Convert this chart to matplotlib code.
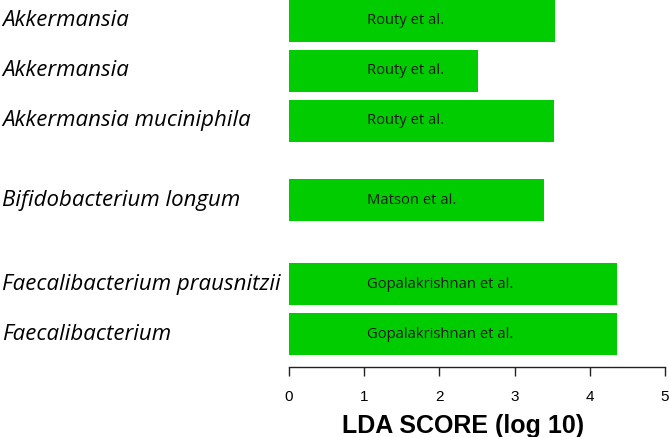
import matplotlib
matplotlib.use("Agg")
import matplotlib.pyplot as plt
from matplotlib.transforms import blended_transform_factory

taxa = ["Akkermansia", "Akkermansia", "Akkermansia muciniphila",
        "Bifidobacterium longum", "Faecalibacterium prausnitzii", "Faecalibacterium"]
lda_scores = [3.54, 2.51, 3.52, 3.39, 4.36, 4.36]
studies = ["Routy et al.", "Routy et al.", "Routy et al.",
           "Matson et al.", "Gopalakrishnan et al.", "Gopalakrishnan et al."]
positions = [0, 1, 2, 3.586, 5.264, 6.264]
xticks = [0, 1, 2, 3, 4, 5]

W, H = 669, 437
fig = plt.figure(figsize=(W / 100, H / 100), dpi=100)
ax = fig.add_axes([289 / W, (H - 367) / H, 376 / W, 367 / H])

ax.barh(positions, lda_scores, height=0.83, color="#00CC00", edgecolor="none")
ax.set_xlim(0, 5)
ax.set_ylim(6.92, -0.416)

for s in ["top", "right", "left"]:
    ax.spines[s].set_visible(False)
ax.spines["bottom"].set_bounds(0, 5)
ax.spines["bottom"].set_linewidth(1.0)
ax.spines["bottom"].set_color("#222222")
ax.set_yticks([])
ax.set_xticks(xticks)
ax.set_xticklabels([str(t) for t in xticks], fontfamily="Liberation Sans", fontsize=11)
ax.tick_params(axis="x", length=6.5, width=1.0, color="#222222", pad=10)
ax.set_xlabel("LDA SCORE (log 10)", fontfamily="Liberation Sans", fontweight="bold",
              fontsize=18)
ax.xaxis.set_label_coords(0.463, -0.128)

tr = blended_transform_factory(fig.transFigure, ax.transData)
for p, t in zip(positions, taxa):
    ax.text(2 / W, p, t, transform=tr, ha="left", va="center", style="italic",
            fontfamily="Open Sans", fontsize=16, color="black")

for p, s in zip(positions, studies):
    ax.text(1.04, p, s, ha="left", va="center", fontfamily="Open Sans",
            fontsize=10.6, color="#1a1a1a")

fig.savefig("out.png", dpi=100)
